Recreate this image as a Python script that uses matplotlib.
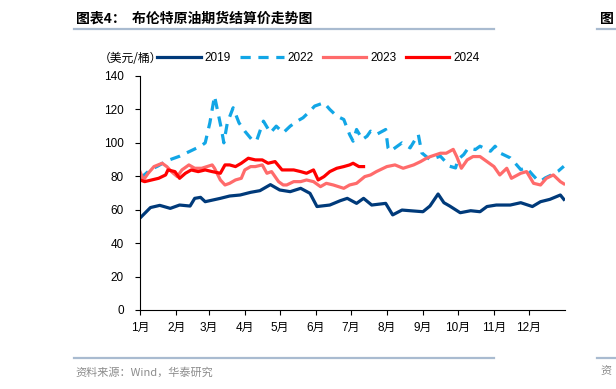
import matplotlib.pyplot as plt
from matplotlib.lines import Line2D

plt.rcParams['font.family'] = ['Liberation Sans', 'Noto Sans CJK SC', 'DejaVu Sans']

# day of year -> Brent settlement price (USD/bbl)
day_2019 = [0, 9, 17, 26, 34, 43, 47, 52, 56, 69, 77, 86, 95, 103, 112, 120, 129, 138, 146,
            152, 163, 172, 178, 186, 192, 199, 211, 217, 225, 232, 243, 249, 256, 261, 266,
            275, 284, 292, 298, 306, 318, 327, 337, 344, 352, 361, 364]
price_2019 = [55.0, 61.3, 62.6, 60.8, 62.8, 62.2, 66.8, 67.4, 64.8, 66.8, 68.2, 68.8, 70.4, 71.4,
              75.0, 71.8, 70.8, 72.8, 69.8, 61.9, 62.8, 65.4, 66.8, 63.8, 66.8, 62.8, 63.8, 56.9,
              59.8, 59.4, 58.8, 62.2, 69.4, 64.2, 62.2, 58.2, 59.4, 58.8, 61.9, 62.8, 62.8, 64.2,
              61.9, 64.8, 66.2, 68.8, 66.2]

day_2022 = [0, 4, 9, 15, 20, 26, 34, 43, 52, 56, 60, 63, 64, 67, 70, 72, 75, 80, 85, 90, 96,
            100, 106, 112, 117, 123, 129, 135, 140, 146, 150, 158, 163, 169, 175, 180, 183, 186,
            191, 195, 198, 203, 211, 213, 215, 219, 225, 232, 239, 242, 249, 258, 266, 271, 273,
            278, 282, 288, 292, 301, 305, 309, 318, 322, 327, 332, 337, 341, 344, 348, 354, 359, 364]
price_2022 = [79, 81, 84, 86, 88, 90, 92, 95, 98, 100, 112, 124, 128, 118, 108, 100, 112, 121,
              112, 107, 102, 101, 113, 106, 110, 106, 110, 113, 115, 119, 122, 124, 120, 116, 114,
              105, 101, 108, 102, 104, 107, 105, 108, 97, 95, 97, 100, 97, 105, 94, 90, 92, 86,
              85, 90, 93, 97, 96, 98, 95, 98, 94, 91, 88, 84, 85, 81, 78, 77, 79, 81, 83, 86]

day_2023 = [0, 3, 7, 12, 19, 23, 27, 32, 36, 42, 47, 53, 62, 64, 69, 73, 77, 82, 87, 90, 95, 99,
            105, 109, 113, 119, 123, 126, 132, 138, 143, 149, 155, 160, 166, 175, 180, 186, 193,
            198, 203, 212, 219, 226, 235, 241, 246, 249, 258, 263, 269, 272, 276, 281, 286, 292,
            298, 304, 309, 315, 319, 327, 332, 338, 344, 349, 355, 361, 364]
price_2023 = [82.8, 77.8, 81.8, 85.8, 87.8, 85.8, 82.8, 79.8, 83.8, 86.8, 84.8, 84.8, 86.8, 84.8,
              77.8, 74.8, 75.8, 77.8, 78.8, 83.8, 85.8, 85.8, 86.8, 81.8, 82.8, 76.8, 74.8, 74.8,
              76.8, 76.8, 77.8, 76.8, 73.8, 75.8, 74.8, 72.8, 74.8, 75.8, 79.8, 80.8, 82.8, 85.8,
              86.8, 84.8, 86.8, 88.8, 90.8, 91.7, 93.8, 93.8, 96.1, 91.8, 84.8, 89.8, 91.8, 91.8,
              88.8, 85.8, 80.8, 84.8, 78.8, 81.8, 82.8, 75.8, 74.8, 78.8, 80.8, 76.8, 75.5]

day_2024 = [0, 4, 10, 16, 22, 24, 30, 34, 39, 44, 50, 56, 62, 69, 73, 77, 82, 87, 93, 99, 105,
            110, 116, 122, 126, 132, 138, 143, 149, 153, 158, 163, 169, 175, 180, 183, 188, 192]
price_2024 = [77.8, 76.8, 77.8, 78.8, 80.8, 83.8, 82.8, 78.8, 81.8, 83.8, 82.8, 83.8, 82.8, 81.8,
              86.8, 86.8, 85.8, 87.8, 90.8, 89.8, 89.8, 87.8, 88.8, 83.8, 83.8, 83.8, 82.8, 81.8,
              83.8, 77.8, 79.8, 82.8, 84.8, 85.8, 86.8, 87.8, 85.8, 85.8]

month_starts = [0, 31, 59, 90, 120, 151, 181, 212, 243, 273, 304, 334]
month_labels = ['1月', '2月', '3月', '4月', '5月', '6月', '7月', '8月', '9月', '10月', '11月', '12月']

fig = plt.figure(figsize=(6.16, 3.89), dpi=100)
ax = fig.add_axes([140 / 616, 1 - 310 / 389, 425 / 616, 234 / 389])

ax.plot(day_2019, price_2019, color='#003A7A', lw=2.3, label='2019')
ax.plot(day_2022, price_2022, color='#12A6E6', lw=2.3, dashes=(3.2, 2.4), label='2022')
ax.plot(day_2023, price_2023, color='#FF6B6B', lw=2.3, label='2023')
ax.plot(day_2024, price_2024, color='#FF0000', lw=2.3, label='2024')

ax.set_xlim(0, 365)
ax.set_ylim(0, 140)
ax.set_yticks(range(0, 141, 20))
ax.set_xticks(month_starts)
ax.set_xticklabels(month_labels)
ax.tick_params(axis='both', labelsize=8.5, length=3.5, width=0.8, direction='out', colors='black')
ax.tick_params(axis='y', pad=8)
ax.tick_params(axis='x', pad=5)
for side in ['top', 'right']:
    ax.spines[side].set_visible(False)
for side in ['left', 'bottom']:
    ax.spines[side].set_linewidth(0.8)

# legend with unit label in front
fig.text(99 / 616, 1 - 58 / 389, '（美元/桶）', fontsize=8.5, va='center', ha='left',
         family=['Noto Sans CJK SC'])
fig.legend(loc='center left', bbox_to_anchor=(157 / 616, 1 - 58 / 389), ncol=4, frameon=False,
           fontsize=8.5, handlelength=3.7, handletextpad=0.35, columnspacing=0.75, borderpad=0,
           borderaxespad=0)

# title and source with rules
fig.text(76 / 616, 1 - 19 / 389, '图表4：  布伦特原油期货结算价走势图', fontsize=10, fontweight='bold',
         va='center', ha='left', family=['Noto Sans CJK SC'])
rule = '#A9BBD0'
fig.add_artist(Line2D([74 / 616, 494 / 616], [1 - 29 / 389, 1 - 29 / 389], color=rule, lw=1.6))
fig.add_artist(Line2D([74 / 616, 494 / 616], [1 - 358 / 389, 1 - 358 / 389], color=rule, lw=1.6))
fig.add_artist(Line2D([597 / 616, 1.0], [1 - 29 / 389, 1 - 29 / 389], color=rule, lw=1.6))
fig.add_artist(Line2D([597 / 616, 1.0], [1 - 358 / 389, 1 - 358 / 389], color=rule, lw=1.6))
fig.text(75 / 616, 1 - 372 / 389, '资料来源：Wind，华泰研究', fontsize=8, color='#8C8C8C',
         va='center', ha='left', family=['Noto Sans CJK SC'])
fig.text(600 / 616, 1 - 19 / 389, '图', fontsize=10, fontweight='bold', va='center', ha='left',
         family=['Noto Sans CJK SC'])
fig.text(600 / 616, 1 - 372 / 389, '资', fontsize=8, color='#8C8C8C', va='center', ha='left',
         family=['Noto Sans CJK SC'])

fig.savefig('out.png', dpi=100)
